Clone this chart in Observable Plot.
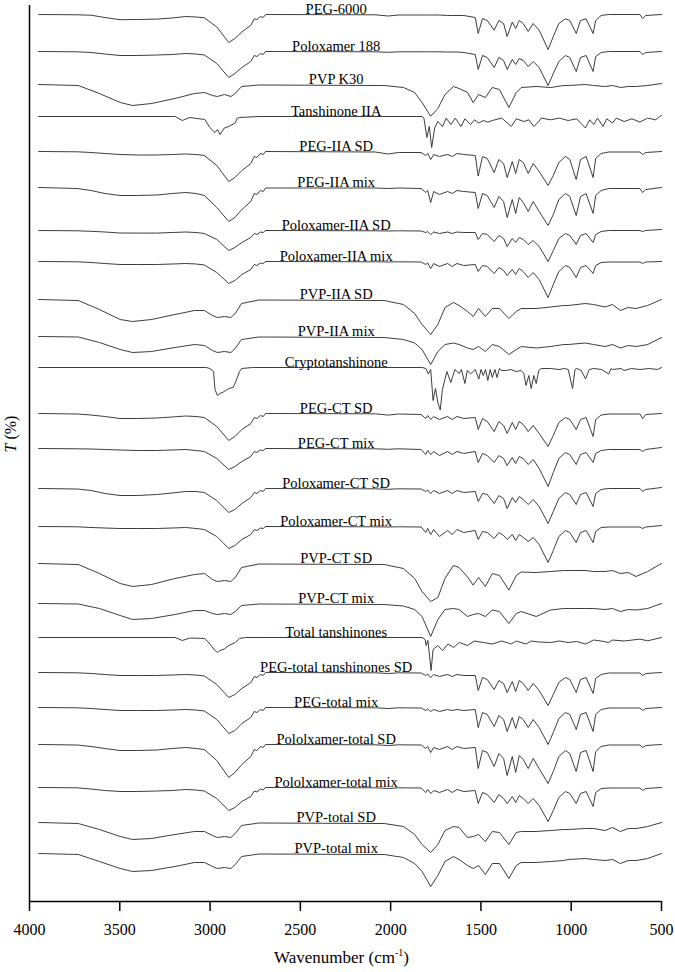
<!DOCTYPE html>
<html><head><meta charset="utf-8">
<script src="https://cdn.jsdelivr.net/npm/d3@7"></script>
<script src="https://cdn.jsdelivr.net/npm/@observablehq/plot@0.6"></script>
<style>
body{margin:0;background:#fff;}
#wrap{position:relative;width:675px;height:972px;overflow:hidden;}
#ytitle{position:absolute;left:-18px;top:424px;width:60px;height:20px;line-height:20px;text-align:center;transform:rotate(-90deg);font:16px "Liberation Serif","Times New Roman",Times,"DejaVu Serif",serif;color:#000;}
#xtitle{position:absolute;left:4px;top:947px;width:675px;line-height:20px;text-align:center;font:17px "Liberation Serif","Times New Roman",Times,"DejaVu Serif",serif;color:#000;}
#xtitle sup{font-size:10px;}
</style></head><body>
<div id="wrap"><div id="chart"></div><div id="ytitle"><i>T</i> (%)</div><div id="xtitle">Wavenumber (cm<sup>-1</sup>)</div></div>
<script>
// ---- tick labels / axis values ----
const xTicks = [4000, 3500, 3000, 2500, 2000, 1500, 1000, 500];
const labelWn = 2335; // wavenumber at which each trace name is centred

// ---- trace names, top to bottom ----
const names = ["PEG-6000","Poloxamer 188","PVP K30","Tanshinone IIA","PEG-IIA SD","PEG-IIA mix","Poloxamer-IIA SD","Poloxamer-IIA mix","PVP-IIA SD","PVP-IIA mix","Cryptotanshinone","PEG-CT SD","PEG-CT mix","Poloxamer-CT SD","Poloxamer-CT mix","PVP-CT SD","PVP-CT mix","Total tanshinones","PEG-total tanshinones SD","PEG-total mix","Pololxamer-total SD","Pololxamer-total mix","PVP-total SD","PVP-total mix"];
// stacking offset of each trace (T units)
const offsets = [887,850,817,785,750,714,671,640,602,565,534,488,453,413,375,338,298,264,229,194,157,114,79,48];

// ---- wavenumber grids ----
const pegGrid = [3942,3699,3623,3547,3464,3374,3284,3212,3149,3104,
 3068,3014,2950,2915,2875,2824,2804,2789,2769,2753,
 2740,2110,2035,1975,1826,1797,1787,1772,1757,1728,
 1689,1669,1649,1620,1571,1558,1535,1510,1473,1448,
 1423,1404,1378,1361,1343,1323,1298,1273,1243,1198,
 1168,1136,1098,1073,1036,1011,979,937,920,884,
 834,636,619,599,500];
const pvpGrid = [3942,3693,3577,3463,3396,3308,3199,3111,3067,3033,
 3011,2975,2938,2913,2877,2778,2059,1941,1868,1820,
 1772,1736,1700,1664,1640,1604,1580,1556,1520,1483,
 1445,1395,1358,1333,1258,1183,1108,1082,983,934,
 858,809,759,710,660,587,500];

// ---- absorption depth below each trace's offset ----
const peg6000 = [0,0.3,0.7,3,5.2,5,4.6,3.5,2,2.5, 3.3,12.5,28,24,17.4,10.8,4.3,5,2,3, 0,0.3,1.5,0.5,0.5,0.5,0.5,0.5,0.5,0.5, 1,1,1,1,3,19,4,6,15.7,6, 9,22,7.5,14,6,9,17,9,15.7,35, 22,9,4.3,6,19,6,4.3,19,6,1, 0,0,4,1,0];
const poloxamer188 = [0,0.3,1,2.5,4,4,3.5,3,2,2.5, 3.5,12,26,22,16,10,4,5,2,3, 0,0.3,0.8,0.3,0.3,0.3,0.3,0.3,0.3,0.3, 0.5,0.5,0.5,1,3,18,4,6,16,6, 9,18,8,13,7,9,15,10,16,34, 22,10,4,6,20,6,4,20,5,1, 0,0,3,1,0];
const pvpK30 = [0,1,9,18,21,19,14,9,8,11, 12,10,12,9,2,0.5,1,3,8,18, 31.7,24,10,2,4,8,18,10,13,3, 5,23,8,3,2,3,1,1,0,1, 2,1,3,2,2,1,-1];
const tan2aWn = [3942,3198,3165,3132,3066,3044,3022,3011,3000,2975,2950,2913,2901,2889,2777,1820,1808,1791,1779,1767,1752,1736,1712,1695,1675,1656,1632,1615,1591,1574,1555,1531,1507,1483,1433,1383,1358,1320,1295,1270,1245,1233,1183,1133,1083,1033,983,958,933,908,871,847,809,785,735,686,636,587,537,512,500];
const tan2a = [0,0,4,1,3,11,16,13,18,11.5,10,6.5,1.6,1,0,0,1.6,21,10,31,11.5,5,10,1.6,8,1.6,10,2.3,8,3.3,6.5,4,5.6,4,1.6,10,2.3,5,3.3,10,5,1.6,3.3,1.6,4,2.3,11.5,3.3,8,1.6,10,2.3,6.5,1.6,5,2.3,5.6,1.6,3.3,0,-1];
const pegIIASD = [0,0.3,1,2,3,3.5,3.5,3,2.5,3, 4,14,30,26,19,12,5,6,2,3, 0,0.5,2.5,1,1,4,2,8,3,5, 3,5,2,3,4,24.5,5,7,21,8, 12,26,10,22,8,11,22,12,20,34, 24,11,5,8,28,8,5,26,7,2, 0.5,0.5,3,1,0];
const pegIIAmix = [0,1,3,6,8,8,7.5,6,5,6, 8,20,34,30,22,14,6,7,3,4, 0.5,0.5,1,0.5,1,5,3,15,4,7, 4,6,3,4,5,21,6,8,20,9, 14,30,12,26,10,15,24,14,24,38, 27,12,6,9,28,9,6,26,8,3, 1,1,5,2,0];
const poloIIASD = [0,0.3,0.8,1.5,2.5,2.6,2.6,2,1.5,2, 3,9,20,17,12,7,3,4,1.5,2, 0,0.3,0.5,0.3,0.5,2,1,4,1.5,3, 1.5,3,1.5,2,2,9,3,4,11,5, 8,16,8,12,7,9,14,10,16,31, 20,8,3,5,14,5,3,12,4,1, 0,0,1,0,-1];
const poloIIAmix = [0,0.3,1,2,3,3,3,2.5,2,2.5, 3.5,11,22,19,13,8,3,4,1.5,2, 0,0.3,0.5,0.3,0.5,3,1.5,7,2,5, 2,5,2,4,3,10,4,5,12,6, 9,14,8,13,7,10,16,11,18,36, 23,10,4,6,16,6,4,12,4,1, 0.5,0.5,2,0.5,0];
const pvpIIASD = [0,1,10,20,22,20,15,11,11,16, 18,17,18,14,4,0.5,1,5,14,25, 35,25,8,3,6,12,17,9,17,9, 9,19,12,9,9,7.5,6,6,4,5, 7.5,5,11,8,9,6,0];
const pvpIIAmix = [0,0.5,6,13,16,15,11,8,9,14, 16,15,16,12,3,0.5,1,3,6.5,13, 28,15,8,6.5,8,11.5,13,10,15,8, 10,18,13,10,11.5,10,8,8,6.5,8, 10,8,11.5,9,10,8,1];
const ctWn = [3942,3060,3044,3028,3022,3011,3000,2975,2950,2926,2910,2901,2889,2876,2814,1820,1796,1784,1772,1760,1748,1736,1724,1713,1704,1692,1675,1658,1639,1630,1615,1605,1591,1571,1555,1543,1531,1519,1507,1494,1483,1469,1458,1445,1433,1408,1385,1358,1334,1320,1309,1295,1283,1270,1258,1245,1233,1183,1135,1104,1082,1057,1043,1033,1007,982,961,933,881,834,818,809,754,735,690,636,577,526,500];
const ct = [0,0,1,4,22,28,26,24,21,20,14,10,4,1,0,0,1,6.5,2,33,21,35,42.5,22,15,4,15,2,6,2,16,3,6.5,2,11.5,2,8,2,13,2,10,2,10,1,3,3,2,4,3,6,18,8,21,8,16,3,1,1,2,1,2,21,2,1,3,11.5,2,1,2,6.5,1,2,1,3,1,2,1,2,0];
const pegCTSD = [0,0.5,1.5,3,5,5,4.5,3.5,2.5,3, 4,13,27,23,16,10,4,5,2,3, 0,0.3,1.6,0.5,1,5,2,6,3,6, 3,6,3,5,4,16,5,8,18,8, 12,20,9,16,8,11,18,12,20,33, 22,9,4,6,16,6,4,23,6,1.5, 0.5,0.5,5,1,0];
const pegCTmix = [0,0.3,0.5,1,1.5,2,2,1.5,1,2, 3,10,21,18,13,8,3,4,1.5,2, 0,0.3,0.8,0.3,1,6,2,6,3,7, 3,6,3,5,3,14,5,7,14,7, 10,17,9,15,8,10,16,11,20,38, 24,10,4,6,16,6,4,14,5,2, 1,1,3,1,-1];
const poloCTSD = [0,0.5,2,5,7,7,6,4.5,3,3, 4,12,24,21,15,9,4,5,2,3, 0,0.3,0.8,0.3,0.5,3,1.5,5,2,5, 2,5,2,4,3,13,5,6,15,7, 10,20,9,14,8,11,16,11,18,35, 23,10,4,6,16,6,4,18,5,1, 0,0,3,1,-1];
const poloCTmix = [0,0.3,1,1.5,2,2,2,1.5,1,2, 3,10,22,19,13,8,3,4,1.5,2, 0,0.3,0.5,0.3,0.5,6,2,8,3,10, 4,8,3,6,4,13,5,6,12,6, 9,13,8,14,8,11,15,11,18,36, 24,10,4,6,16,6,4,16,5,1, 0.5,0.5,2,0.5,-1];
const pvpCTSD = [0,1,10,20,23,21,15,11,10,16, 18,17,18,14,4,0.5,1,5,15,28, 38,34,15,2,4,13.4,21.6,14,23,10, 12,26.6,12,8.5,9,8,7,7,7,8, 8,7,10,9,13,8,0];
const pvpCTmix = [0,0.5,5,12,16,15,11,7,7,10, 11,10,11,8,2,0.5,1,2.5,6,13, 33,16,6,5,6,13,11,10,13,6.5, 8,20,10,8,13,6.5,5,5,5,5, 6,5,8,6,6.5,5,0];
const ttWn = [3942,3198,3165,3132,3066,3044,3022,3011,3000,2975,2950,2913,2889,2854,1820,1800,1795,1786,1770,1760,1736,1712,1687,1663,1639,1604,1575,1531,1483,1433,1383,1358,1309,1283,1245,1183,1133,1083,1033,983,933,884,834,809,735,636,587,500];
const tt = [0,0,3,0.5,1,6.5,13,15,13,11.5,8,5,1,0,0,2,8,3,33,12,8,13,6.5,10,5,8,3.5,5,6.5,3.5,6.5,3.5,6.5,3.5,4.5,5,3.5,5,4,6.5,2.5,3.5,5,2.5,3.5,1.6,3.3,0];
const pegTotSD = [0,0.3,1,2,3,3,3,2.5,2,2.5, 3.5,12,25,22,16,10,4,5,2,3, 0,0.3,1,0.3,0.5,3,1.5,5,2,4, 2,4,2,3,3,18,5,7,17,8, 11,20,9,19,8,11,18,11,18,33, 22,10,5,7,20,7,5,21,6,2, 0.5,0.5,3,1,0];
const pegTotmix = [0,0.3,1,2,3,3,3,2.5,2,2.5, 3.5,12,26,23,16,10,4,5,2,3, 0,0.3,1,0.3,0.5,3,1.5,4,2,4, 2,3,2,3,2,20,5,7,19,8, 12,24,10,21,9,12,20,12,20,37, 25,11,5,7,22,7,5,24,7,2, 0.5,0.5,3,1,0];
const poloTotSD = [0,0.5,2,4,6,6,5.5,4,3,4, 5,16,33,28,20,12,5,6,2,3, 0,0.3,1,0.3,0.5,4,2,8,3,5, 2,5,2,4,3,24,6,8,22,9, 14,31,12,28,11,15,24,14,24,39, 27,12,6,9,27,8,6,27,7,2, 0.5,0.5,3,1,0];
const poloTotmix = [0,0.3,1.5,3,4,4,3.5,3,2,2.5, 3.5,11,23,20,14,9,3.5,4.5,1.5,2.5, 0,0.3,1,0.3,0.5,5,2,6,3,5, 2,5,2,4,3,16,5,7,15,7, 11,16,9,15,8,11,16,11,18,34, 23,10,4,6,16,6,4,19,5,1, 0.5,0.5,3,1,0];
const pvpTotSD = [0,1,7,14,17,16,12,9,9,13, 15,14,15,11,3,0.5,1,4,12,22, 30,22,8,4,5,15,14,12,19,9, 10,22,10,9,9,8,7,7,6,6, 8,5,9,6,6,4,0];
const pvpTotmix = [0,1,8,15,18,17,13,9,9,13, 15,14,15,11,3,0.5,1,4,10,18, 33,22,8,3,6,12,15,12,21,10, 10,25,12,9,9,8,7,6,5,6, 7,6,10,7,7,5,0];

// ---- table built from the arrays above ----
const traces = [
 [pegGrid, peg6000],[pegGrid, poloxamer188],[pvpGrid, pvpK30],[tan2aWn, tan2a],
 [pegGrid, pegIIASD],[pegGrid, pegIIAmix],[pegGrid, poloIIASD],[pegGrid, poloIIAmix],
 [pvpGrid, pvpIIASD],[pvpGrid, pvpIIAmix],[ctWn, ct],[pegGrid, pegCTSD],[pegGrid, pegCTmix],
 [pegGrid, poloCTSD],[pegGrid, poloCTmix],[pvpGrid, pvpCTSD],[pvpGrid, pvpCTmix],[ttWn, tt],
 [pegGrid, pegTotSD],[pegGrid, pegTotmix],[pegGrid, poloTotSD],[pegGrid, poloTotmix],
 [pvpGrid, pvpTotSD],[pvpGrid, pvpTotmix]
];
traces.forEach(([w,d],i)=>{ if (w.length!==d.length) console.error("length mismatch", names[i], w.length, d.length); });
const rows = traces.flatMap(([wn, d], i) => wn.map((w, j) => ({series: names[i], wn: w, t: offsets[i] - d[j]})));
const labels = names.map((n, i) => ({name: n, wn: labelWn, t: offsets[i]}));

// calibration of the original's (non-uniform) wavenumber axis, applied by the x scale
const warp = d3.scaleLinear()
  .domain([4000, 3700, 3400, 3150, 3000, 2500, 2000, 1800, 1700, 1560, 1400, 1200, 950, 800, 500])
  .range([4000, 3737, 3434, 3136, 2945, 2460.4, 1979, 1809, 1699, 1517.2, 1350.6, 1130, 889.7, 763.8, 500]);

const serif = "'Liberation Serif', 'Times New Roman', Times, 'DejaVu Serif', serif";
const chart = Plot.plot({
  width: 675, height: 945,
  marginLeft: 29, marginRight: 14, marginTop: 5, marginBottom: 44,
  style: {fontFamily: serif, fontSize: "16px", background: "#fff", color: "#000"},
  x: {domain: [4000, 500], transform: warp, axis: null},
  y: {domain: [0, 896], axis: null},
  marks: [
    Plot.line(rows, {x: "wn", y: "t", z: "series", stroke: "#333", strokeWidth: 0.95, curve: "linear"}),
    Plot.text(labels, {x: "wn", y: "t", text: "name", lineAnchor: "bottom", dy: -1, fontSize: 14.5, fontFamily: serif, fill: "#000"}),
    Plot.ruleX([4000], {stroke: "#000", strokeWidth: 1.5}),
    Plot.ruleY([0], {x1: 4000, x2: 500, stroke: "#000", strokeWidth: 1.5}),
    Plot.axisX({ticks: xTicks, tickFormat: "d", tickSize: 10, tickPadding: 12, strokeWidth: 1.5, stroke: "#000", fontSize: 16, fontFamily: serif, label: null, fill: "#000"})
  ]
});
document.getElementById("chart").appendChild(chart);
</script>
</body></html>
